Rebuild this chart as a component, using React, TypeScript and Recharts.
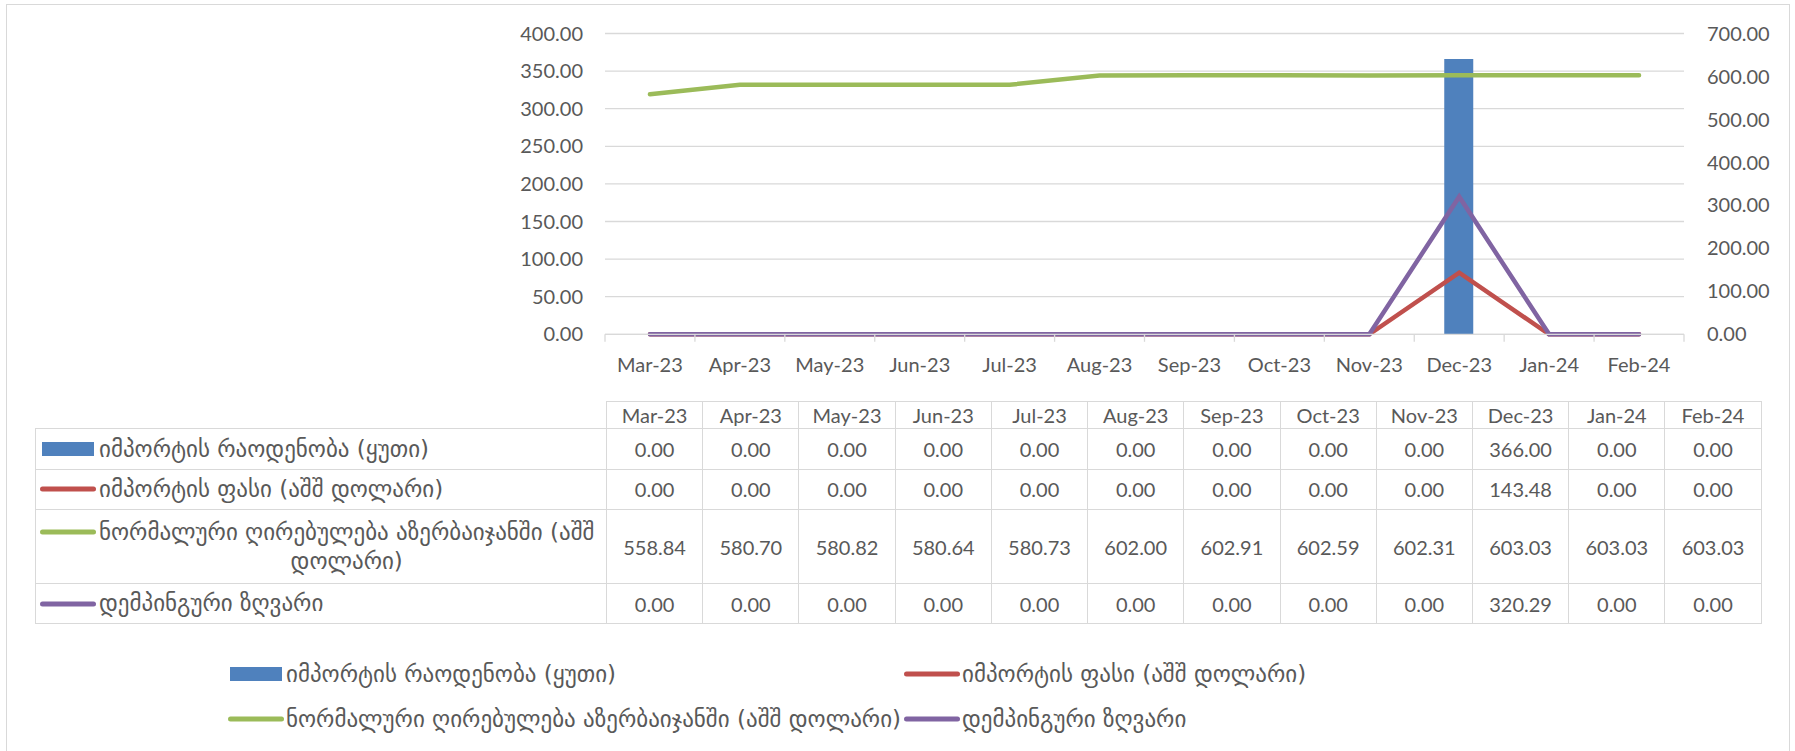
import React from 'react';
import { ComposedChart, Bar, Line, XAxis, YAxis, CartesianGrid } from 'recharts';

const categories = ['Mar-23', 'Apr-23', 'May-23', 'Jun-23', 'Jul-23', 'Aug-23', 'Sep-23', 'Oct-23', 'Nov-23', 'Dec-23', 'Jan-24', 'Feb-24'];
const importQty = [0, 0, 0, 0, 0, 0, 0, 0, 0, 366, 0, 0];
const importPrice = [0, 0, 0, 0, 0, 0, 0, 0, 0, 143.48, 0, 0];
const normalValue = [558.84, 580.7, 580.82, 580.64, 580.73, 602.0, 602.91, 602.59, 602.31, 603.03, 603.03, 603.03];
const dumpingMargin = [0, 0, 0, 0, 0, 0, 0, 0, 0, 320.29, 0, 0];

const seriesNames = [
  'იმპორტის რაოდენობა (ყუთი)',
  'იმპორტის ფასი (აშშ დოლარი)',
  'ნორმალური ღირებულება აზერბაიჯანში (აშშ დოლარი)',
  'დემპინგური ზღვარი',
];
const tableLabels = [
  'იმპორტის რაოდენობა (ყუთი)',
  'იმპორტის ფასი (აშშ დოლარი)',
  'ნორმალური ღირებულება აზერბაიჯანში (აშშ\nდოლარი)',
  'დემპინგური ზღვარი',
];
const leftTicks = [0, 50, 100, 150, 200, 250, 300, 350, 400];
const rightTicks = [0, 100, 200, 300, 400, 500, 600, 700];

const colors = ['#4F81BD', '#C0504D', '#9BBB59', '#8064A2'];
const keyTypes = ['rect', 'line', 'line', 'line'];
const seriesValues = [importQty, importPrice, normalValue, dumpingMargin];

const data = categories.map((c, i) => ({
  name: c,
  qty: importQty[i],
  price: importPrice[i],
  normal: normalValue[i],
  margin: dumpingMargin[i],
}));

const FONT = "Lato, 'DejaVu Sans', sans-serif";
const GEO_FONT = "'DejaVu Sans', sans-serif";
const GEO_SIZE = 23;
const TEXT = '#595959';
const GRID = '#D9D9D9';

const XTick = (props: any) => {
  const { x, y, payload, index, visibleTicksCount } = props;
  const half = payload && payload.offset ? payload.offset : 44.95;
  return (
    <g>
      <line x1={x - half} x2={x - half} y1={y} y2={y + 7.5} stroke={GRID} strokeWidth={1.3} />
      {index === visibleTicksCount - 1 && (
        <line x1={x + half} x2={x + half} y1={y} y2={y + 7.5} stroke={GRID} strokeWidth={1.3} />
      )}
      <text x={x} y={y + 38} textAnchor="middle" fill={TEXT} fontSize={20} fontFamily={FONT}>
        {payload.value}
      </text>
    </g>
  );
};

const LegendKey = ({ i }: { i: number }) => (
  <svg width={58} height={16} style={{ display: 'block', flex: 'none' }}>
    {keyTypes[i] === 'rect' ? (
      <rect x={4} y={1} width={52} height={14} fill={colors[i]} />
    ) : (
      <line x1={4.5} x2={55.5} y1={8} y2={8} stroke={colors[i]} strokeWidth={5} strokeLinecap="round" />
    )}
  </svg>
);

const cellBorder = `1.5px solid ${GRID}`;

const DataTable = () => {
  const rowHeights = [40.5, 40, 74.5, 39.5];
  return (
    <table
      style={{
        position: 'absolute',
        left: 35,
        top: 400.7,
        borderCollapse: 'collapse',
        tableLayout: 'fixed',
        width: 571 + 12 * 96.22,
        fontFamily: FONT,
        fontSize: 20,
        color: TEXT,
      }}
    >
      <colgroup>
        <col style={{ width: 571 }} />
        {categories.map((c) => (
          <col key={c} style={{ width: 96.22 }} />
        ))}
      </colgroup>
      <tbody>
        <tr style={{ height: 27.6 }}>
          <td style={{ border: 'none', padding: 0 }} />
          {categories.map((c) => (
            <td key={c} style={{ border: cellBorder, textAlign: 'center', padding: 0, verticalAlign: 'middle' }}>
              {c}
            </td>
          ))}
        </tr>
        {seriesValues.map((vals, r) => (
          <tr key={r} style={{ height: rowHeights[r] }}>
            <td style={{ border: cellBorder, padding: 0, verticalAlign: 'middle' }}>
              <div style={{ display: 'flex', alignItems: 'flex-start', paddingLeft: 2 }}>
                <div style={{ height: 29, display: 'flex', alignItems: 'center' }}>
                  <LegendKey i={r} />
                </div>
                <div
                  style={{
                    lineHeight: '29px',
                    whiteSpace: 'pre-line',
                    textAlign: 'center',
                    marginLeft: 3,
                    fontFamily: GEO_FONT,
                    fontSize: GEO_SIZE,
                  }}
                >
                  {tableLabels[r]}
                </div>
              </div>
            </td>
            {vals.map((v, i) => (
              <td key={i} style={{ border: cellBorder, textAlign: 'center', padding: 0, verticalAlign: 'middle' }}>
                {v.toFixed(2)}
              </td>
            ))}
          </tr>
        ))}
      </tbody>
    </table>
  );
};

const legendPos = [
  { left: 226, top: 674 },
  { left: 902, top: 674 },
  { left: 226, top: 719 },
  { left: 902, top: 719 },
];

const BottomLegend = () => (
  <>
    {seriesNames.map((n, i) => (
      <div
        key={i}
        style={{
          position: 'absolute',
          left: legendPos[i].left,
          top: legendPos[i].top - 15,
          height: 30,
          display: 'flex',
          alignItems: 'center',
          fontFamily: GEO_FONT,
          fontSize: GEO_SIZE,
          color: TEXT,
          whiteSpace: 'nowrap',
        }}
      >
        <LegendKey i={i} />
        <span style={{ marginLeft: 2 }}>{n}</span>
      </div>
    ))}
  </>
);

export default function App() {
  return (
    <div style={{ position: 'absolute', left: 0, top: 0, width: 1795, height: 751, overflow: 'hidden', background: '#fff' }}>
      <div
        style={{
          position: 'absolute',
          left: 6,
          top: 4,
          width: 1784,
          height: 800,
          border: `1.5px solid ${GRID}`,
          boxSizing: 'border-box',
        }}
      />
      <div style={{ position: 'absolute', left: 0, top: 0 }}>
        <ComposedChart
          width={1795}
          height={400}
          data={data}
          margin={{ top: 33.5, right: 0, left: 0, bottom: 0 }}
        >
          <CartesianGrid yAxisId="left" vertical={false} stroke={GRID} strokeWidth={1.3} />
          <XAxis
            dataKey="name"
            interval={0}
            height={65.7}
            tickSize={0}
            tickMargin={0}
            tickLine={false}
            axisLine={{ stroke: GRID, strokeWidth: 1.3 }}
            tick={<XTick />}
          />
          <YAxis
            yAxisId="left"
            domain={[0, 400]}
            ticks={leftTicks}
            interval={0}
            width={605}
            axisLine={false}
            tickLine={false}
            tickSize={0}
            tickMargin={22}
            tickFormatter={(v: number) => v.toFixed(2)}
            tick={{ fill: TEXT, fontSize: 20, fontFamily: FONT }}
          />
          <YAxis
            yAxisId="right"
            orientation="right"
            domain={[0, 700]}
            ticks={rightTicks}
            interval={0}
            width={111}
            axisLine={false}
            tickLine={false}
            tickSize={0}
            tickMargin={23}
            tickFormatter={(v: number) => v.toFixed(2)}
            tick={{ fill: TEXT, fontSize: 20, fontFamily: FONT, textAnchor: 'start' }}
          />
          <Bar yAxisId="left" dataKey="qty" fill={colors[0]} barSize={29} isAnimationActive={false} />
          <Line yAxisId="right" dataKey="price" stroke={colors[1]} strokeWidth={4.5} strokeLinecap="round" dot={false} activeDot={false} isAnimationActive={false} />
          <Line yAxisId="right" dataKey="normal" stroke={colors[2]} strokeWidth={4.5} strokeLinecap="round" dot={false} activeDot={false} isAnimationActive={false} />
          <Line yAxisId="right" dataKey="margin" stroke={colors[3]} strokeWidth={4.5} strokeLinecap="round" dot={false} activeDot={false} isAnimationActive={false} />
        </ComposedChart>
      </div>
      <DataTable />
      <BottomLegend />
    </div>
  );
}
